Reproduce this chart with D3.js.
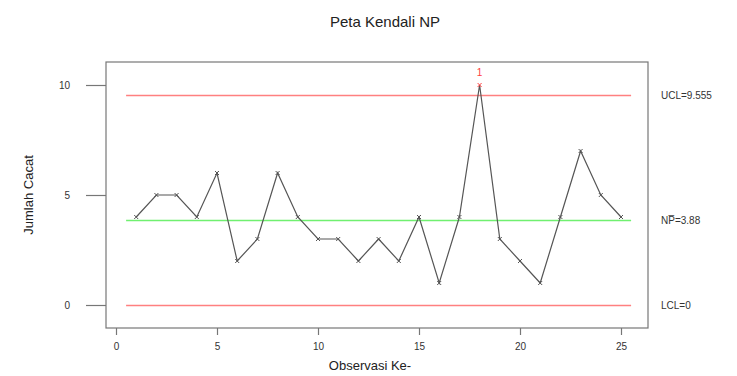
<!DOCTYPE html>
<meta charset="utf-8">
<head>
  <style>
    body { margin: 0; background: #fff; }
    svg { font-family: "Liberation Sans", Arial, sans-serif; }
    .tick text { font-size: 10px; fill: #333; }
    .lbl { font-size: 10px; fill: #333; }
  </style>
  <script src="https://d3js.org/d3.v7.min.js"></script>
</head>
<body>
  <svg width="737" height="376"></svg>
  <script>
    // data
    var obs = d3.range(1, 26)
    var defects = [4,5,5,4,6,2,3,6,4,3,3,2,3,2,4,1,4,10,3,2,1,4,7,5,4]
    var limits = [
      {name: "UCL", value: 9.555, text: "UCL=9.555", color: "#ff8080"},
      {name: "CL", value: 3.88, text: "NP\u0305=3.88", color: "#70f070"},
      {name: "LCL", value: 0, text: "LCL=0", color: "#ff8080"}
    ]
    var xTicks = [0, 5, 10, 15, 20, 25]
    var yTicks = [0, 5, 10]

    var svg = d3.select("svg")
    var box = {left: 106, right: 648, top: 62, bottom: 328}

    var x = d3.scaleLinear().domain([0, 25]).range([116, 621])
    var y = d3.scaleLinear().domain([0, 10]).range([305, 85])

    // frame
    svg.append("rect")
      .attr("x", box.left).attr("y", box.top)
      .attr("width", box.right - box.left).attr("height", box.bottom - box.top)
      .attr("fill", "none").attr("stroke", "#777").attr("stroke-width", 1.2)

    // axes
    svg.append("g")
      .attr("transform", "translate(" + box.left + ",0)")
      .call(d3.axisLeft(y).tickValues(yTicks).tickSize(20).tickPadding(16))
    svg.append("g")
      .attr("transform", "translate(0," + box.bottom + ")")
      .call(d3.axisBottom(x).tickValues(xTicks).tickSize(7).tickPadding(8))
    svg.selectAll(".domain").remove()
    svg.selectAll(".tick line").attr("stroke", "#777").attr("stroke-width", 1.2)

    // limit lines
    svg.selectAll(".limit")
      .data(limits).enter().append("line")
      .attr("x1", x(0.5)).attr("x2", x(25.5))
      .attr("y1", function(d) { return Math.round(y(d.value)) + 0.5 })
      .attr("y2", function(d) { return Math.round(y(d.value)) + 0.5 })
      .attr("stroke", function(d) { return d.color })
      .attr("stroke-width", 1.5)

    svg.selectAll(".limtxt")
      .data(limits).enter().append("text")
      .attr("class", "lbl")
      .attr("x", 661)
      .attr("y", function(d) { return y(d.value) + 4 })
      .text(function(d) { return d.text })

    // data line
    var line = d3.line()
      .x(function(d, i) { return x(obs[i]) })
      .y(function(d) { return y(d) })
    svg.append("path")
      .datum(defects)
      .attr("d", line)
      .attr("fill", "none")
      .attr("stroke", "#555")
      .attr("stroke-width", 1.2)

    // markers
    svg.selectAll(".pt")
      .data(defects).enter().append("path")
      .attr("transform", function(d, i) { return "translate(" + x(obs[i]) + "," + y(d) + ")" })
      .attr("d", "M-2,-2L2,2M-2,2L2,-2")
      .attr("stroke", function(d) { return d > limits[0].value ? "#ff4040" : "#555" })
      .attr("stroke-width", 1)

    // out-of-control label
    defects.forEach(function(d, i) {
      if (d > limits[0].value) {
        svg.append("text")
          .attr("x", x(obs[i])).attr("y", y(d) - 9)
          .attr("text-anchor", "middle")
          .attr("font-size", "10px")
          .attr("fill", "#ff4040")
          .text("1")
      }
    })

    // titles
    svg.append("text")
      .attr("x", 385).attr("y", 27)
      .attr("text-anchor", "middle")
      .attr("font-size", "15px").attr("fill", "#222")
      .text("Peta Kendali NP")
    svg.append("text")
      .attr("x", 370).attr("y", 370)
      .attr("text-anchor", "middle")
      .attr("font-size", "13px").attr("fill", "#222")
      .text("Observasi Ke-")
    svg.append("text")
      .attr("transform", "translate(33,195) rotate(-90)")
      .attr("text-anchor", "middle")
      .attr("font-size", "13px").attr("fill", "#222")
      .text("Jumlah Cacat")
  </script>
</body>
